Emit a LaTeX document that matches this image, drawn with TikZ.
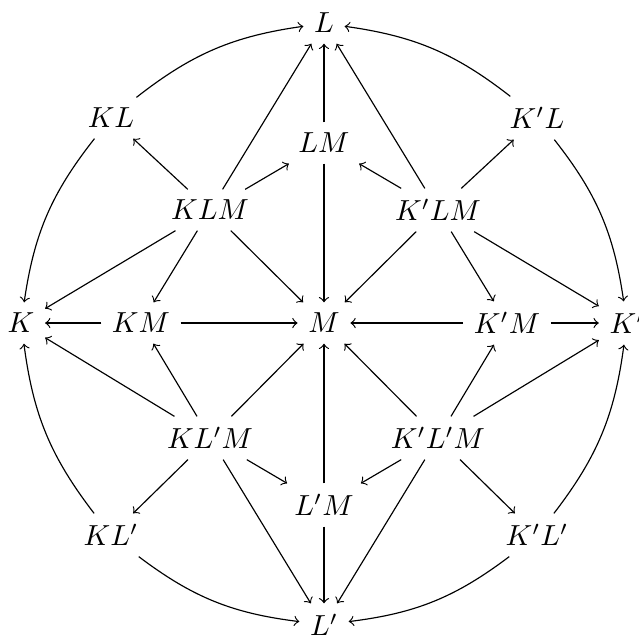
\documentclass[tikz,border=0pt]{standalone}
\begin{document}
\begin{tikzpicture}[x=0.3448pt,y=-0.3448pt,>=to,
  ar/.style={->},
  every node/.style={inner sep=3.5pt}]
\useasboundingbox (0,0) rectangle (639,636);
\node (L)   at (324,23)  {$L$};
\node (KL)  at (111,118) {$KL$};
\node (KpL) at (537,118) {$K'L$};
\node (LM)  at (324,143) {$LM$};
\node (KLM) at (210,210) {$KLM$};
\node (KpLM) at (438,210) {$K'LM$};
\node (K)   at (21,323)  {$K$};
\node (KM)  at (141,323) {$KM$};
\node (M)   at (324,323) {$M$};
\node (KpM) at (507,323) {$K'M$};
\node (Kp)  at (627,323) {$K'$};
\node (KLpM) at (210,438) {$KL'M$};
\node (KpLpM) at (438,438) {$K'L'M$};
\node (LpM) at (324,505) {$L'M$};
\node (KLp) at (111,535) {$KL'$};
\node (KpLp) at (537,535) {$K'L'$};
\node (Lp)  at (324,625) {$L'$};
% outer arcs
\draw[ar] (KL) to[bend left=15] (L);
\draw[ar] (KpL) to[bend right=15] (L);
\draw[ar] (KL) to[bend right=15] (K);
\draw[ar] (KpL) to[bend left=15] (Kp);
\draw[ar] (KLp) to[bend left=15] (K);
\draw[ar] (KpLp) to[bend right=15] (Kp);
\draw[ar] (KLp) to[bend right=15] (Lp);
\draw[ar] (KpLp) to[bend left=15] (Lp);
% top
\draw[ar] (KLM) -- (KL);
\draw[ar] (KLM) -- (L);
\draw[ar] (KLM) -- (LM);
\draw[ar] (KLM) -- (K);
\draw[ar] (KLM) -- (KM);
\draw[ar] (KLM) -- (M);
\draw[ar] (LM) -- (L);
\draw[ar] (LM) -- (M);
\draw[ar] (KpLM) -- (L);
\draw[ar] (KpLM) -- (LM);
\draw[ar] (KpLM) -- (KpL);
\draw[ar] (KpLM) -- (M);
\draw[ar] (KpLM) -- (KpM);
\draw[ar] (KpLM) -- (Kp);
% middle
\draw[ar] (KM) -- (K);
\draw[ar] (KM) -- (M);
\draw[ar] (KpM) -- (M);
\draw[ar] (KpM) -- (Kp);
% bottom
\draw[ar] (KLpM) -- (K);
\draw[ar] (KLpM) -- (KM);
\draw[ar] (KLpM) -- (M);
\draw[ar] (KLpM) -- (KLp);
\draw[ar] (KLpM) -- (LpM);
\draw[ar] (KLpM) -- (Lp);
\draw[ar] (KpLpM) -- (M);
\draw[ar] (KpLpM) -- (KpM);
\draw[ar] (KpLpM) -- (Kp);
\draw[ar] (KpLpM) -- (LpM);
\draw[ar] (KpLpM) -- (KpLp);
\draw[ar] (KpLpM) -- (Lp);
\draw[ar] (LpM) -- (M);
\draw[ar] (LpM) -- (Lp);
\end{tikzpicture}
\end{document}
